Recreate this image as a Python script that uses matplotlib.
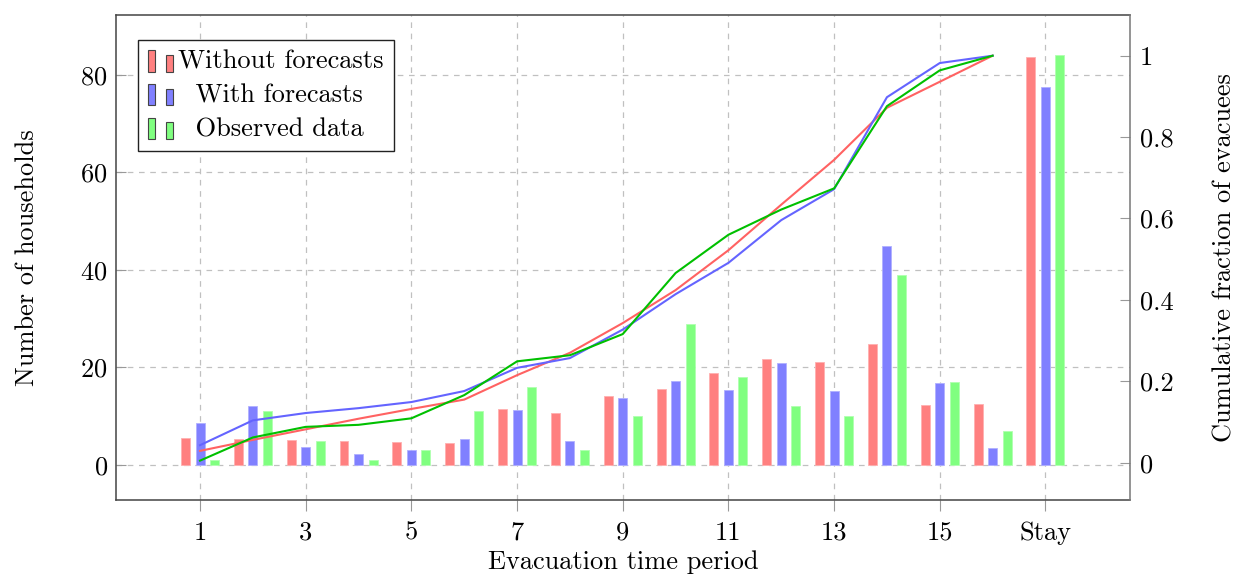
import matplotlib
matplotlib.use("Agg")
import matplotlib.pyplot as plt
import numpy as np
from matplotlib.legend_handler import HandlerBase
from matplotlib.patches import Rectangle

# ---------------- data ----------------
periods = list(range(1, 17))
tick_positions = [1, 3, 5, 7, 9, 11, 13, 15, 17]
tick_labels = ["1", "3", "5", "7", "9", "11", "13", "15", "Stay"]
stay_position = 17

without_forecasts = [5.5, 5.3, 5.1, 4.9, 4.7, 4.4, 11.5, 10.7, 14.1, 15.5,
                     18.9, 21.7, 21.2, 24.8, 12.2, 12.4]
with_forecasts = [8.6, 12.0, 3.7, 2.3, 3.1, 5.3, 11.2, 4.9, 13.8, 17.3,
                  15.3, 20.9, 15.1, 44.9, 16.8, 3.5]
observed = [1, 11, 5, 1, 3, 11, 16, 3, 10, 29, 18, 12, 10, 39, 17, 7]

stay_without = 83.6
stay_with = 77.5
stay_observed = 84.0

cum_without = [0.029, 0.056, 0.082, 0.108, 0.132, 0.155, 0.215, 0.270,
               0.343, 0.424, 0.522, 0.634, 0.744, 0.872, 0.936, 1.0]
cum_with = [0.043, 0.104, 0.122, 0.134, 0.149, 0.176, 0.233, 0.257,
            0.327, 0.414, 0.491, 0.596, 0.672, 0.898, 0.982, 1.0]
cum_observed = [0.005, 0.062, 0.088, 0.093, 0.109, 0.166, 0.249, 0.264,
                0.316, 0.466, 0.560, 0.622, 0.674, 0.876, 0.964, 1.0]

series_names = ["Without forecasts", "With forecasts", "Observed data"]

# ---------------- style ----------------
plt.rcParams["font.family"] = ["cmr10", "DejaVu Serif"]
plt.rcParams["mathtext.fontset"] = "cm"
plt.rcParams["axes.formatter.use_mathtext"] = True
FS = 19

bar_colors = ["#FF8080", "#8080FF", "#80FF80"]
bar_edges = ["#FFB0B0", "#B0B0FF", "#B0FFB0"]
line_colors = ["#FF6262", "#6464FF", "#00C000"]
grid_color = "#C0C0C0"

fig = plt.figure(figsize=(12.43, 5.79), dpi=100)
ax = fig.add_axes([116 / 1243, 79 / 579, 1014 / 1243, 485 / 579])

offsets = [-0.275, 0.0, 0.275]
bw = 0.17
bar_data = [without_forecasts, with_forecasts, observed]
stay_vals = [stay_without, stay_with, stay_observed]
x = np.array(periods + [stay_position], dtype=float)
for i in range(3):
    vals = list(bar_data[i]) + [stay_vals[i]]
    ax.bar(x + offsets[i], vals, width=bw, color=bar_colors[i],
           edgecolor=bar_edges[i], linewidth=0.6, zorder=2,
           label=series_names[i])

ax.set_xlim(-0.59, 18.6)
ax.set_ylim(-7.2, 92.3)
ax.set_xticks(tick_positions)
ax.set_xticklabels(tick_labels, fontsize=FS)
ax.set_yticks([0, 20, 40, 60, 80])
ax.tick_params(axis="y", labelsize=FS, direction="in", length=7,
               color="#999999", pad=6)
ax.tick_params(axis="x", direction="out", length=8, color="#999999", pad=7)
ax.grid(True, color=grid_color, linestyle=(0, (4.5, 4.5)), linewidth=0.9,
        zorder=0)
ax.set_axisbelow(True)
for s in ["left", "bottom", "top"]:
    ax.spines[s].set_color("#444444")
    ax.spines[s].set_linewidth(1.1)
ax.spines["right"].set_visible(False)

ax.set_ylabel("Number of households", fontsize=FS, labelpad=30)
ax.set_xlabel("Evacuation time period", fontsize=FS, labelpad=4)

ax2 = ax.twinx()
ax2.set_ylim(-0.0917, 1.1)
for i, cum in enumerate([cum_without, cum_with, cum_observed]):
    ax2.plot(periods, cum, color=line_colors[i], linewidth=1.5, zorder=3)
ax2.set_yticks([0, 0.2, 0.4, 0.6, 0.8, 1.0])
ax2.set_yticklabels(["0", "0.2", "0.4", "0.6", "0.8", "1"], fontsize=FS)
ax2.tick_params(axis="y", direction="in", length=7, color="#999999", pad=7)
for s in ["left", "bottom", "top"]:
    ax2.spines[s].set_visible(False)
ax2.spines["right"].set_color("#777777")
ax2.spines["right"].set_linewidth(1.1)
ax2.set_ylabel("Cumulative fraction of evacuees", fontsize=FS, labelpad=28)


class TwoBarHandler(HandlerBase):
    def create_artists(self, legend, orig_handle, xdescent, ydescent,
                       width, height, fontsize, trans):
        fc = orig_handle.get_facecolor()
        w = width * 0.28
        x0 = -xdescent
        y0 = -ydescent - height * 0.15
        r1 = Rectangle((x0, y0), w, height * 1.15, facecolor=fc,
                       edgecolor="#444444", linewidth=0.8, transform=trans)
        r2 = Rectangle((x0 + width - w, y0), w, height * 0.9, facecolor=fc,
                       edgecolor="#444444", linewidth=0.8, transform=trans)
        return [r1, r2]


handles = [Rectangle((0, 0), 1, 1, facecolor=c) for c in bar_colors]
labels = [series_names[0], "  " + series_names[1], "  " + series_names[2]]
leg = ax2.legend(handles, labels, loc="upper left",
                 bbox_to_anchor=(22 / 1014, 1 - 25 / 485), borderaxespad=0,
                 fontsize=FS, frameon=True, fancybox=False,
                 handler_map={Rectangle: TwoBarHandler()},
                 handlelength=0.95, handletextpad=0.2, borderpad=0.38,
                 labelspacing=0.38)
leg.get_frame().set_edgecolor("#222222")
leg.get_frame().set_linewidth(1.0)
leg.get_frame().set_alpha(1)

fig.savefig("out.png", dpi=100)
